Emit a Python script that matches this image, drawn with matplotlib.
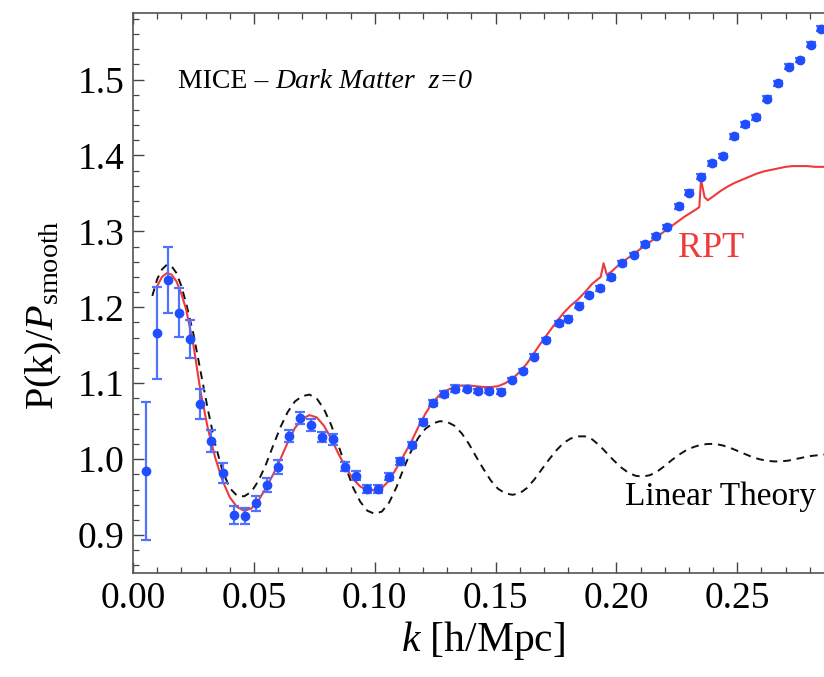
import numpy as np
import matplotlib
matplotlib.use("Agg")
import matplotlib.pyplot as plt
from matplotlib.ticker import MultipleLocator

plt.rcParams['font.family'] = ['Liberation Serif', 'DejaVu Serif']
plt.rcParams['mathtext.fontset'] = 'custom'
plt.rcParams['mathtext.rm'] = 'Liberation Serif'
plt.rcParams['mathtext.it'] = 'Liberation Serif:italic'
plt.rcParams['mathtext.bf'] = 'Liberation Serif:bold'

# MICE dark-matter measurements: P(k)/P_smooth with 1-sigma errors
k_data = [0.0054, 0.0098, 0.0146, 0.0190, 0.0235, 0.0279, 0.0323, 0.0373, 0.0418, 0.0463,
          0.0510, 0.0554, 0.0602, 0.0647, 0.0693, 0.0737, 0.0783, 0.0829, 0.0877, 0.0923,
          0.0967, 0.1012, 0.1060, 0.1106, 0.1154, 0.1198, 0.1243, 0.1288, 0.1333, 0.1381,
          0.1428, 0.1473, 0.1521, 0.1566, 0.1613, 0.1660, 0.1710, 0.1762, 0.1799, 0.1844,
          0.1888, 0.1933, 0.1979, 0.2023, 0.2071, 0.2119, 0.2165, 0.2208, 0.2257, 0.2302,
          0.2349, 0.2394, 0.2439, 0.2486, 0.2531, 0.2577, 0.2622, 0.2669, 0.2714, 0.2761,
          0.2807, 0.2848]
ratio_data = [0.984, 1.166, 1.236, 1.193, 1.158, 1.073, 1.024, 0.982, 0.926, 0.925,
              0.942, 0.966, 0.990, 1.030, 1.054, 1.045, 1.029, 1.026, 0.990, 0.978,
              0.9605, 0.9605, 0.977, 0.997, 1.019, 1.049, 1.0745, 1.086, 1.093, 1.093,
              1.090, 1.090, 1.089, 1.104, 1.116, 1.135, 1.157, 1.179, 1.185, 1.202,
              1.216, 1.225, 1.2395, 1.258, 1.269, 1.283, 1.294, 1.306, 1.333, 1.351,
              1.372, 1.3895, 1.399, 1.425, 1.441, 1.450, 1.475, 1.495, 1.517, 1.526,
              1.546, 1.567]
err_data = [0.091, 0.061, 0.044, 0.032, 0.025, 0.020, 0.015, 0.013, 0.012, 0.011,
            0.010, 0.009, 0.009, 0.008, 0.008, 0.008, 0.007, 0.007, 0.006, 0.006,
            0.005, 0.005, 0.005, 0.005, 0.004, 0.004, 0.004, 0.004, 0.004, 0.003,
            0.003, 0.003, 0.003, 0.003, 0.003, 0.003, 0.003, 0.003, 0.003, 0.003,
            0.003, 0.003, 0.003, 0.003, 0.003, 0.003, 0.003, 0.003, 0.003, 0.003,
            0.003, 0.003, 0.003, 0.003, 0.003, 0.003, 0.003, 0.003, 0.003, 0.003,
            0.003, 0.003]

# RPT prediction
k_rpt = [0.010, 0.012, 0.014, 0.016, 0.018, 0.020, 0.022, 0.025, 0.028, 0.031,
         0.034, 0.037, 0.040, 0.043, 0.046, 0.049, 0.052, 0.055, 0.058, 0.061,
         0.064, 0.067, 0.070, 0.073, 0.076, 0.079, 0.082, 0.085, 0.088, 0.091,
         0.094, 0.097, 0.100, 0.103, 0.106, 0.109, 0.112, 0.115, 0.118, 0.121,
         0.124, 0.127, 0.130, 0.133, 0.136, 0.139, 0.142, 0.145, 0.148, 0.151,
         0.154, 0.157, 0.160, 0.163, 0.166, 0.169, 0.172, 0.175, 0.178, 0.181,
         0.184, 0.187, 0.190, 0.1935, 0.1947, 0.1960, 0.198, 0.201, 0.204, 0.207,
         0.210, 0.213, 0.216, 0.219, 0.222, 0.225, 0.228, 0.231, 0.233, 0.2343,
         0.2350, 0.2365, 0.2378, 0.240, 0.243, 0.246, 0.249, 0.252, 0.255, 0.258,
         0.261, 0.264, 0.267, 0.270, 0.273, 0.276, 0.279, 0.282, 0.286]
ratio_rpt = [1.228, 1.240, 1.245, 1.243, 1.234, 1.218, 1.197, 1.150, 1.088, 1.040,
             1.002, 0.972, 0.950, 0.937, 0.932, 0.935, 0.946, 0.962, 0.980, 1.000,
             1.022, 1.041, 1.053, 1.058, 1.055, 1.044, 1.027, 1.007, 0.989, 0.974,
             0.964, 0.959, 0.959, 0.962, 0.972, 0.988, 1.005, 1.022, 1.042, 1.060,
             1.075, 1.085, 1.091, 1.095, 1.097, 1.097, 1.096, 1.095, 1.095, 1.096,
             1.100, 1.106, 1.115, 1.126, 1.140, 1.154, 1.167, 1.180, 1.192, 1.202,
             1.210, 1.220, 1.231, 1.240, 1.258, 1.243, 1.247, 1.256, 1.263, 1.270,
             1.277, 1.284, 1.291, 1.298, 1.305, 1.312, 1.319, 1.325, 1.329, 1.332,
             1.368, 1.345, 1.341, 1.346, 1.353, 1.359, 1.364, 1.368, 1.372, 1.376,
             1.379, 1.381, 1.383, 1.385, 1.386, 1.386, 1.386, 1.385, 1.385]

# Linear theory
k_lin = [0.008, 0.010, 0.012, 0.014, 0.016, 0.018, 0.020, 0.022, 0.025, 0.028,
         0.031, 0.034, 0.037, 0.040, 0.043, 0.046, 0.049, 0.052, 0.055, 0.058,
         0.061, 0.064, 0.067, 0.070, 0.073, 0.076, 0.079, 0.082, 0.085, 0.088,
         0.091, 0.094, 0.097, 0.100, 0.103, 0.106, 0.109, 0.112, 0.115, 0.118,
         0.121, 0.124, 0.127, 0.130, 0.133, 0.136, 0.139, 0.142, 0.145, 0.148,
         0.151, 0.154, 0.157, 0.160, 0.163, 0.166, 0.169, 0.172, 0.175, 0.178,
         0.181, 0.184, 0.187, 0.190, 0.193, 0.196, 0.199, 0.202, 0.205, 0.208,
         0.211, 0.214, 0.217, 0.220, 0.223, 0.226, 0.229, 0.232, 0.235, 0.238,
         0.241, 0.244, 0.247, 0.250, 0.253, 0.256, 0.259, 0.262, 0.265, 0.268,
         0.271, 0.274, 0.277, 0.280, 0.286]
ratio_lin = [1.215, 1.237, 1.250, 1.256, 1.254, 1.245, 1.228, 1.205, 1.165, 1.115,
             1.065, 1.020, 0.985, 0.962, 0.952, 0.951, 0.957, 0.972, 0.993, 1.018,
             1.042, 1.062, 1.076, 1.083, 1.085, 1.080, 1.066, 1.045, 1.018, 0.990,
             0.963, 0.944, 0.932, 0.928, 0.931, 0.943, 0.963, 0.988, 1.010, 1.028,
             1.040, 1.047, 1.050, 1.049, 1.044, 1.034, 1.020, 1.003, 0.987, 0.972,
             0.961, 0.955, 0.953, 0.955, 0.962, 0.973, 0.986, 0.999, 1.011, 1.021,
             1.027, 1.030, 1.030, 1.026, 1.018, 1.008, 0.998, 0.989, 0.982, 0.978,
             0.977, 0.979, 0.984, 0.991, 0.999, 1.006, 1.012, 1.016, 1.019, 1.020,
             1.020, 1.018, 1.015, 1.011, 1.007, 1.003, 1.000, 0.998, 0.997, 0.997,
             0.998, 1.000, 1.002, 1.004, 1.006]

fig = plt.figure(figsize=(8.24, 6.77), dpi=100)
ax = fig.add_axes([0.1614, 0.1536, 0.8386 + 0.01, 0.8276])

ax.plot(k_lin, ratio_lin, color='#111111', lw=1.4, dashes=(4, 3), zorder=2)
ax.plot(k_rpt, ratio_rpt, color='#ee3a3a', lw=1.5, zorder=3)
ax.errorbar(k_data, ratio_data, yerr=err_data, fmt='o', ms=6, color='#1f4dff',
            ecolor='#4f72ff', elinewidth=1.6, capsize=3.5, capthick=1.6, zorder=4)

ax.set_xlim(0, 0.2893)
ax.set_ylim(0.85, 1.588)

ax.xaxis.set_major_locator(MultipleLocator(0.05))
ax.xaxis.set_minor_locator(MultipleLocator(0.01))
ax.yaxis.set_major_locator(MultipleLocator(0.1))
ax.yaxis.set_minor_locator(MultipleLocator(0.02))
ax.xaxis.set_major_formatter(plt.FuncFormatter(lambda v, p: f"{v:.2f}"))
ax.yaxis.set_major_formatter(plt.FuncFormatter(lambda v, p: f"{v:.1f}"))

ax.tick_params(which='both', direction='in', top=True, right=False, color='#444444')
ax.tick_params(which='major', length=8, width=1.0, labelsize=27, pad=6)
ax.tick_params(which='minor', length=4, width=0.9)
ax.spines['right'].set_visible(False)
for s in ('left', 'bottom', 'top'):
    ax.spines[s].set_color('#555555')
    ax.spines[s].set_linewidth(1.2)

ax.set_xlabel(r"$k$ [h/Mpc]", fontsize=30, labelpad=2)
ax.set_ylabel(r"P(k)/$P_{\mathrm{smooth}}$", fontsize=29)
ax.yaxis.set_label_coords(-0.098, 0.46)

# Panel title: upright survey name followed by italic description
t1 = ax.text(0.0185, 1.498, "MICE – ", fontsize=20, ha='left', va='center')
ax.annotate("Dark Matter  z=0", xy=(1.0, 0.5), xycoords=t1, fontsize=20,
            style='italic', ha='left', va='center')
ax.text(0.2255, 1.278, "RPT", color='#ee3a3a', fontsize=26, ha='left', va='center')
ax.text(0.2826, 0.9505, "Linear Theory", fontsize=24, ha='right', va='center')

fig.savefig("out.png", dpi=100)
